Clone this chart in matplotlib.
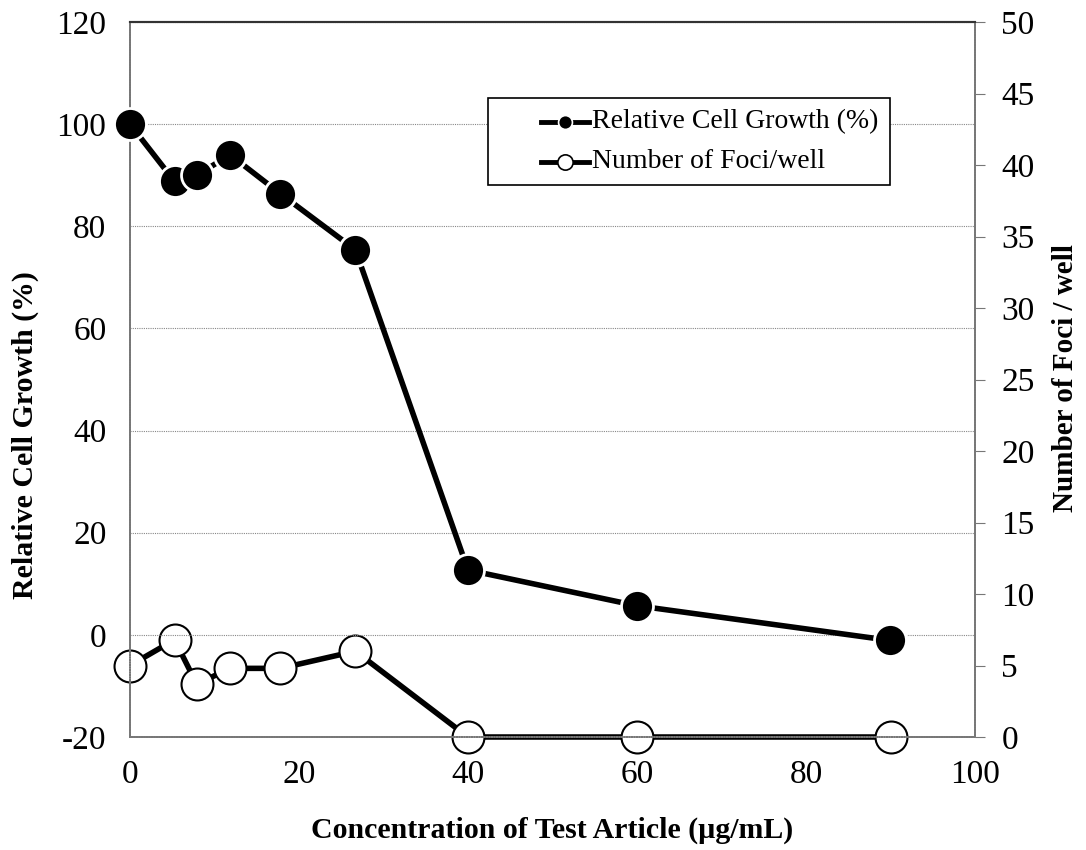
import matplotlib
matplotlib.use("Agg")
import matplotlib.pyplot as plt
from matplotlib.lines import Line2D
from matplotlib.patches import Rectangle
import matplotlib.transforms as mtransforms

plt.rcParams['font.family'] = ['Liberation Serif', 'DejaVu Serif']
plt.rcParams['axes.unicode_minus'] = False

conc = [0, 5.27, 7.9, 11.85, 17.78, 26.67, 40, 60, 90]
growth = [100, 88.8, 90.0, 94.0, 86.4, 75.4, 12.7, 5.7, -1.1]
foci = [5.0, 6.8, 3.7, 4.8, 4.8, 6.0, 0, 0, 0]

left_ticks = [-20, 0, 20, 40, 60, 80, 100, 120]
right_ticks = [0, 5, 10, 15, 20, 25, 30, 35, 40, 45, 50]
x_ticks = [0, 20, 40, 60, 80, 100]
legend_labels = ['Relative Cell Growth (%)', 'Number of Foci/well']

W, H = 1086, 850
fig = plt.figure(figsize=(W/100, H/100), dpi=100)
ax = fig.add_axes([130/W, 1-737/H, (975-130)/W, (737-22)/H])
ax2 = ax.twinx()

ax.set_xlim(0, 100)
ax.set_ylim(-20, 120)
ax2.set_ylim(0, 50)

ax.set_xticks(x_ticks)
ax.set_yticks(left_ticks)
ax2.set_yticks(right_ticks)

ax.yaxis.grid(True, color='#888888', linestyle=(0, (1, 1)), linewidth=0.8)
ax.set_axisbelow(True)

for a in (ax, ax2):
    for s in ('left', 'right', 'bottom'):
        a.spines[s].set_color('#777777')
        a.spines[s].set_linestyle((0, (1, 0.5)))
        a.spines[s].set_linewidth(1.2)
    a.spines['top'].set_color('#333333')
    a.spines['top'].set_linewidth(1.5)

ax.tick_params(axis='both', labelsize=24, length=0, colors='#777777', labelcolor='black')
ax.tick_params(axis='y', pad=17)
ax.tick_params(axis='x', pad=16)
ax2.tick_params(axis='y', labelsize=24, length=7, width=0.8, direction='out',
                colors='#777777', labelcolor='black', pad=12)

ax2.plot(conc, foci, color='black', linewidth=4, marker='o', markersize=23,
         markerfacecolor='white', markeredgecolor='black', markeredgewidth=1.5,
         zorder=3, clip_on=False)
ax.set_zorder(ax2.get_zorder() + 1)
ax.patch.set_visible(False)
ax.plot(conc, growth, color='black', linewidth=4, marker='o', markersize=23,
        markerfacecolor='black', markeredgecolor='white', markeredgewidth=2,
        zorder=3, clip_on=False)

ax.set_xlabel('Concentration of Test Article (\u00b5g/mL)', fontsize=21.5, fontweight='bold', va='center')
ax.xaxis.set_label_coords(0.5, -(830-737)/715)
ax.set_ylabel('Relative Cell Growth (%)', fontsize=21.5, fontweight='bold', va='center')
ax.yaxis.set_label_coords((25-130)/845, (737-435)/715)
ax2.set_ylabel('Number of Foci / well', fontsize=21, fontweight='bold', va='center')
ax2.yaxis.set_label_coords((1065-130)/845, (737-378)/715)

# legend drawn in pixel coordinates of the figure
px = mtransforms.Affine2D().scale(1/W, -1/H).translate(0, 1) + fig.transFigure
fig.add_artist(Rectangle((488, 98), 402, 87, transform=px, facecolor='white',
                         edgecolor='black', linewidth=1.2, zorder=10))
rows = [122, 162]
styles = [dict(markerfacecolor='black', markeredgecolor='white', markeredgewidth=1.2, markersize=10),
          dict(markerfacecolor='white', markeredgecolor='black', markeredgewidth=1.2, markersize=11)]
for yy, st, lab in zip(rows, styles, legend_labels):
    fig.add_artist(Line2D([541, 589], [yy, yy], transform=px, color='black', linewidth=3.5, zorder=11))
    fig.add_artist(Line2D([565], [yy], transform=px, marker='o', linestyle='none', zorder=12, **st))
    fig.text(592/W, 1-yy/H, lab, fontsize=20, va='center', ha='left', zorder=13)

fig.savefig('out.png', dpi=100)
